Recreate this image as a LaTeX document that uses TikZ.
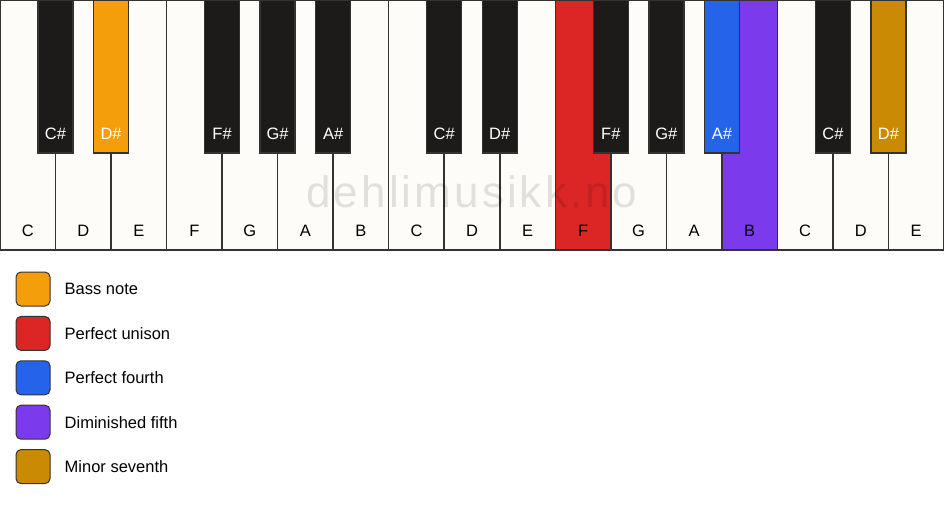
\documentclass[tikz,border=0pt]{standalone}
\usepackage{fontspec}
\setmainfont{Liberation Sans}
\newfontfamily\markfont[LetterSpace=7]{Liberation Sans}
\definecolor{keywhite}{HTML}{FDFCF9}
\definecolor{keyblack}{HTML}{1C1B19}
\definecolor{keyedge}{HTML}{333333}
\definecolor{bass}{HTML}{F59E0B}
\definecolor{unison}{HTML}{DC2626}
\definecolor{fourth}{HTML}{2563EB}
\definecolor{dimfifth}{HTML}{7C3AED}
\definecolor{minseventh}{HTML}{CA8A04}
\usetikzlibrary{positioning}
\begin{document}
\begin{tikzpicture}[x=1pt,y=-1pt,
  keyline/.style={draw=keyedge,line width=1.5pt},
  keylabel/.style={font=\fontsize{16.5}{19}\selectfont,inner sep=0pt,anchor=base},
  legendbox/.style={draw=keyedge,line width=1pt,rounded corners=5pt,minimum size=34pt,inner sep=0pt},
  legendtext/.style={font=\fontsize{16.5}{19}\selectfont,inner sep=0pt,anchor=west}]
  \useasboundingbox (0,0) rectangle (944,506);
  \fill[white] (0,0) rectangle (944,506);
  % weisse Tasten
  \foreach \n/\c [count=\i from 0] in {C/keywhite,D/keywhite,E/keywhite,F/keywhite,G/keywhite,A/keywhite,B/keywhite,
      C/keywhite,D/keywhite,E/keywhite,F/unison,G/keywhite,A/keywhite,B/dimfifth,C/keywhite,D/keywhite,E/keywhite} {
    \draw[keyline,fill=\c] ({\i*944/17},0) rectangle ({(\i+1)*944/17},250);
    \node[keylabel] (w\i) at ({(\i+0.5)*944/17},236) {\n};
  }
  % schwarze Tasten
  \foreach \b/\n/\c in {1/C/keyblack,2/D/bass,4/F/keyblack,5/G/keyblack,6/A/keyblack,8/C/keyblack,
      9/D/keyblack,11/F/keyblack,12/G/keyblack,13/A/fourth,15/C/keyblack,16/D/minseventh} {
    \draw[keyline,fill=\c] ({\b*944/17-17.5},0) rectangle ({\b*944/17+17.5},153);
    \node[keylabel,text=white] (b\b) at ({\b*944/17},139) {\n\#};
  }
  % Wasserzeichen
  \node[font={\markfont\fontsize{44}{50}\selectfont},text=black,text opacity=0.11,inner sep=0pt,anchor=base]
    (mark) at (472,207) {dehlimusikk.no};
  % Legende
  \foreach \c/\t [count=\k from 0] in {bass/Bass note,unison/Perfect unison,fourth/Perfect fourth,
      dimfifth/Diminished fifth,minseventh/Minor seventh} {
    \node[legendbox,fill=\c] (s\k) at (33,{289+\k*44.4}) {};
    \node[legendtext,right=14pt of s\k] (t\k) {\t};
  }
\end{tikzpicture}
\end{document}
